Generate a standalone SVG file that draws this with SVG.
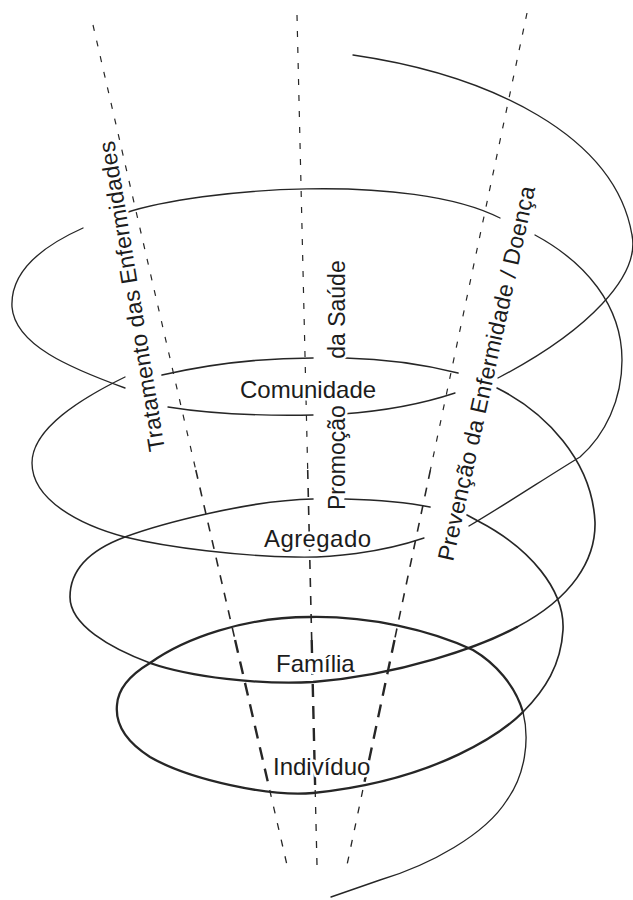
<svg xmlns="http://www.w3.org/2000/svg" width="633" height="900" viewBox="0 0 633 900">
<style>
.sp{fill:none;stroke:#262626;stroke-linecap:round;stroke-linejoin:round}
.w1{stroke-width:1.35}
.w2{stroke-width:1.65}
.w3{stroke-width:2.3}
.dl{fill:none;stroke:#262626}
.da{stroke-width:1.2;stroke-dasharray:6 10}
.db{stroke-width:1.6;stroke-dasharray:9 9}
.dc{stroke-width:2.4;stroke-dasharray:13 9}
.dd{stroke-width:1.3;stroke-dasharray:7 10}
text{font-family:"Liberation Sans",Arial,sans-serif;font-size:24px;fill:#1c1c1c;stroke:#fff;stroke-width:5px;paint-order:stroke;stroke-linejoin:round}
.rot{font-size:23px}
</style>
<rect width="633" height="900" fill="#fff"/>

<g id="connectors">
  <g id="dashed-left">
    <line class="dl da" x1="93" y1="25" x2="195.8" y2="470"/>
    <line class="dl db" x1="195.8" y1="470" x2="235.1" y2="640"/>
    <line class="dl dc" x1="235.1" y1="640" x2="269.7" y2="790"/>
    <line class="dl dd" x1="269.7" y1="790" x2="287" y2="865"/>
  </g>
  <g id="dashed-middle">
    <line class="dl da" x1="297" y1="15" x2="307.7" y2="470"/>
    <line class="dl db" x1="307.7" y1="470" x2="311.7" y2="640"/>
    <line class="dl dc" x1="311.7" y1="640" x2="315.2" y2="790"/>
    <line class="dl dd" x1="315.2" y1="790" x2="317" y2="865"/>
  </g>
  <g id="dashed-right">
    <line class="dl da" x1="527" y1="13" x2="430.4" y2="470"/>
    <line class="dl db" x1="430.4" y1="470" x2="394.5" y2="640"/>
    <line class="dl dc" x1="394.5" y1="640" x2="362.8" y2="790"/>
    <line class="dl dd" x1="362.8" y1="790" x2="347" y2="865"/>
  </g>
  <g id="spiral">
    <path class="sp w1" d="M353,55 C490,75 615,135 632,235 C640,275 590,330 498,378"/>
    <path class="sp w1" d="M455,393 C425,403 385,411 342,414"/>
    <path class="sp w1" d="M313,415 C260,416 205,413 168,407"/>
    <path class="sp w1" d="M125,388 C70,368 15,345 12,307 C10,270 45,245 83,228"/>
    <path class="sp w1" d="M125,213 C200,188 410,172 500,218"/>
    <path class="sp w1" d="M535,235 C585,262 622,305 622,360 C622,400 605,435 580,457 C550,475 508,503 469,526"/>
    <path class="sp w1" d="M424,538 C380,553 330,558 295,557 C240,556 170,548 125,537 C80,525 32,500 32,463 C32,428 82,398 125,377"/>
    <path class="sp w2" d="M162,375 C210,364 265,358 313,358"/>
    <path class="sp w2" d="M345,358 C390,359 430,366 458,373"/>
    <path class="sp w2" d="M497,388 C545,412 592,460 595,522 C596,560 572,598 517,627"/>
    <path class="sp w3" d="M517,627 C480,647 400,675 313,682 C260,685 190,677 150,663"/>
    <path class="sp w2" d="M150,663 C110,648 70,625 70,597 C70,570 90,550 125,537 C160,524 250,500 313,499"/>
    <path class="sp w2" d="M345,499 C380,500 410,503 430,507"/>
    <path class="sp w2" d="M467,515 L478,521 C530,548 565,590 563,630 C561,665 545,690 523,712"/>
    <path class="sp w3" d="M523,712 C505,730 440,780 313,793 C270,797 190,780 150,757 C128,743 115,725 117,705 C118,688 130,675 150,663 C185,638 245,617 310,617 C370,616 430,630 473,650 C495,663 515,685 523,712"/>
    <path class="sp w1" d="M523,712 C530,740 525,775 507,800 C485,835 430,865 380,880 C360,887 345,892 331,897"/>
  </g>
</g>

<g id="node-tratamento">
  <text class="rot" transform="translate(165,450) rotate(-99.3)" textLength="314">Tratamento das Enfermidades</text>
</g>
<g id="node-promocao">
  <text class="rot" transform="translate(345,510) rotate(-90)">Promoção<tspan dx="40"> da Saúde</tspan></text>
</g>
<g id="node-prevencao">
  <text class="rot" transform="translate(453,562) rotate(-77.6)" textLength="383">Prevenção da Enfermidade / Doença</text>
</g>
<g id="node-comunidade">
  <text x="240" y="398">Comunidade</text>
</g>
<g id="node-agregado">
  <text x="264" y="547" textLength="107">Agregado</text>
</g>
<g id="node-familia">
  <text x="276" y="672">Família</text>
</g>
<g id="node-individuo">
  <text x="273" y="775">Indivíduo</text>
</g>
</svg>
